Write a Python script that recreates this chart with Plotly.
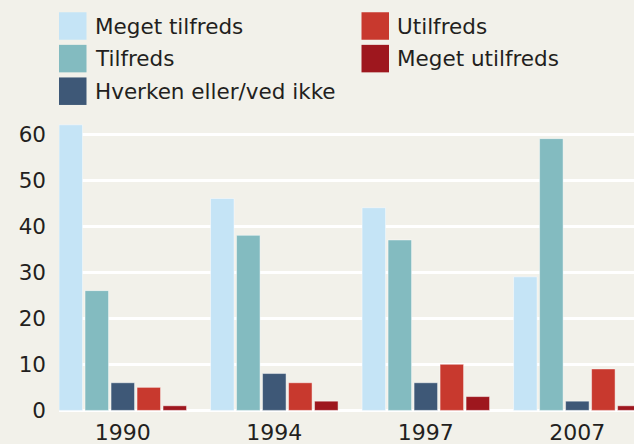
import plotly.graph_objects as go

years = ["1990", "1994", "1997", "2007"]
series_names = ["Meget tilfreds", "Tilfreds", "Hverken eller/ved ikke", "Utilfreds", "Meget utilfreds"]
meget_tilfreds = [62, 46, 44, 29]
tilfreds = [26, 38, 37, 59]
hverken = [6, 8, 6, 2]
utilfreds = [5, 6, 10, 9]
meget_utilfreds = [1, 2, 3, 1]
y_ticks = [0, 10, 20, 30, 40, 50, 60]

values = [meget_tilfreds, tilfreds, hverken, utilfreds, meget_utilfreds]
colors = ["#C5E4F6", "#83BBC0", "#3E5877", "#C8392E", "#9E171E"]
BG = "#F2F1EA"
TXT = "#231F20"
FONT = "DejaVu Sans"

W, H = 634, 444
ML, MR, MT, MB = 59, 0, 111, 29
PW, PH = W - ML - MR, H - MT - MB

fig = go.Figure()
for name, vals, col in zip(series_names, values, colors):
    fig.add_trace(go.Bar(
        x=years, y=vals, name=name, showlegend=False,
        marker=dict(color=col, line=dict(color="rgba(255,255,255,0.45)", width=1)),
    ))

# manual legend (two columns, three rows) with large square swatches
legend_pos = [(59, 26), (59, 58.6), (59, 91.2), (361.5, 26), (361.5, 58.6)]
sw = 27.5
for idx, (lx, ly) in enumerate(legend_pos):
    fig.add_shape(type="rect", xref="paper", yref="paper",
                  x0=(lx - ML) / PW, x1=(lx + sw - ML) / PW,
                  y0=(H - MB - (ly + sw / 2)) / PH,
                  y1=(H - MB - (ly - sw / 2)) / PH,
                  fillcolor=colors[idx], line=dict(width=0), layer="above")
    fig.add_annotation(xref="paper", yref="paper",
                       x=(lx + sw + 6 - ML) / PW,
                       y=(H - MB - ly) / PH,
                       xanchor="left", yanchor="middle", showarrow=False,
                       text=series_names[idx],
                       font=dict(family=FONT, size=21.5, color=TXT))

fig.update_layout(
    width=W, height=H,
    margin=dict(l=ML, r=MR, t=MT, b=MB, pad=0, autoexpand=False),
    paper_bgcolor=BG, plot_bgcolor=BG,
    barmode="group", bargap=0.142, bargroupgap=0.096,
    font=dict(family=FONT, size=22, color=TXT),
    showlegend=False,
)
fig.update_xaxes(range=[-0.421, 3.374], showgrid=False, zeroline=False,
                 showline=False, ticks="", tickfont=dict(size=22, color=TXT),
                 ticklabelstandoff=2, automargin=False)
fig.update_yaxes(range=[-1, 65], tickvals=y_ticks, showgrid=True,
                 gridcolor="white", gridwidth=3, zeroline=True,
                 zerolinecolor="white", zerolinewidth=3, showline=False,
                 ticks="", tickfont=dict(size=21.5, color=TXT),
                 ticklabelstandoff=12, automargin=False)

fig.write_html("out.html", config={"displayModeBar": False},
               post_script="document.body.style.margin='0px';document.body.style.overflow='hidden';")
